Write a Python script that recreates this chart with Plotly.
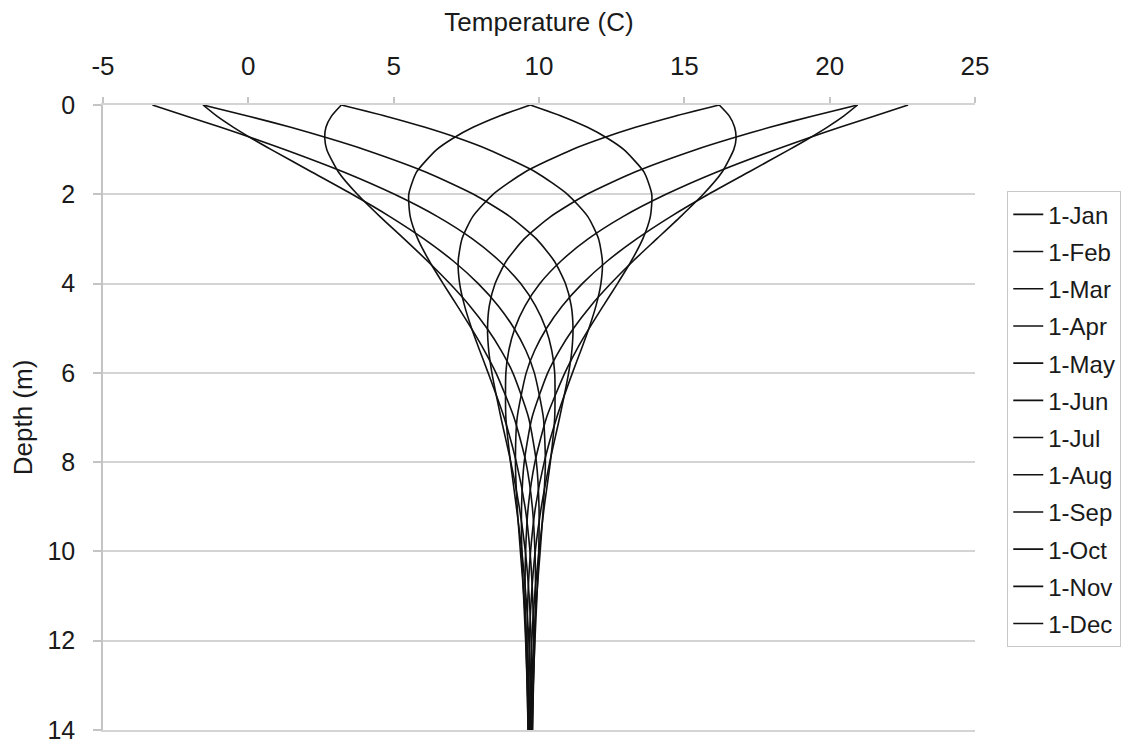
import plotly.graph_objects as go

# Depth below surface (m) at which the profiles are sampled
depth = [0, 0.25, 0.5, 0.75, 1, 1.5, 2, 2.5, 3, 3.5, 4, 4.5, 5, 5.5, 6,
         7, 8, 9, 10, 11, 12, 13, 14]

# Soil temperature profiles (C), one list per date
jan = [-1.56, 0.01, 1.46, 2.79, 4.01, 6.10, 7.75, 9.00, 9.91, 10.53, 10.91, 11.11,
       11.17, 11.13, 11.02, 10.71, 10.37, 10.08, 9.87, 9.74, 9.67, 9.64, 9.64]
feb = [-3.30, -2.12, -0.95, 0.18, 1.27, 3.28, 5.03, 6.51, 7.71, 8.65, 9.37, 9.88,
       10.23, 10.44, 10.54, 10.54, 10.39, 10.18, 10.00, 9.85, 9.75, 9.70, 9.67]
mar = [-1.56, -1.08, -0.51, 0.12, 0.79, 2.18, 3.57, 4.87, 6.04, 7.06, 7.91, 8.60,
       9.14, 9.55, 9.84, 10.15, 10.22, 10.15, 10.04, 9.92, 9.82, 9.75, 9.71]
apr = [3.20, 2.86, 2.67, 2.63, 2.70, 3.10, 3.75, 4.53, 5.36, 6.17, 6.93, 7.62,
       8.21, 8.70, 9.10, 9.64, 9.91, 10.00, 9.99, 9.93, 9.86, 9.80, 9.75]
may = [9.70, 8.62, 7.73, 7.03, 6.48, 5.79, 5.52, 5.57, 5.83, 6.23, 6.70, 7.19,
       7.67, 8.12, 8.52, 9.14, 9.55, 9.77, 9.86, 9.88, 9.85, 9.81, 9.77]
jun = [16.20, 14.67, 13.32, 12.15, 11.13, 9.52, 8.42, 7.72, 7.35, 7.22, 7.27, 7.44,
       7.68, 7.96, 8.25, 8.80, 9.22, 9.52, 9.69, 9.78, 9.81, 9.80, 9.78]
jul = [20.96, 19.39, 17.94, 16.61, 15.39, 13.30, 11.65, 10.40, 9.49, 8.87, 8.49, 8.29,
       8.23, 8.27, 8.38, 8.69, 9.03, 9.32, 9.53, 9.66, 9.73, 9.76, 9.76]
aug = [22.70, 21.52, 20.35, 19.22, 18.13, 16.12, 14.37, 12.89, 11.69, 10.75, 10.03, 9.52,
       9.17, 8.96, 8.86, 8.86, 9.02, 9.22, 9.41, 9.55, 9.65, 9.70, 9.73]
sep = [20.96, 20.48, 19.91, 19.28, 18.61, 17.22, 15.83, 14.53, 13.36, 12.34, 11.49, 10.80,
       10.26, 9.85, 9.56, 9.25, 9.19, 9.25, 9.36, 9.48, 9.58, 9.65, 9.69]
oct_ = [16.20, 16.55, 16.73, 16.78, 16.70, 16.30, 15.65, 14.87, 14.05, 13.23, 12.47, 11.78,
        11.19, 10.70, 10.30, 9.76, 9.49, 9.40, 9.41, 9.47, 9.54, 9.60, 9.65]
nov = [9.70, 10.78, 11.67, 12.37, 12.92, 13.61, 13.88, 13.83, 13.57, 13.17, 12.70, 12.21,
       11.73, 11.28, 10.89, 10.26, 9.86, 9.63, 9.54, 9.52, 9.55, 9.59, 9.63]
dec = [3.20, 4.73, 6.08, 7.26, 8.27, 9.88, 10.98, 11.68, 12.05, 12.18, 12.13, 11.96,
       11.72, 11.44, 11.15, 10.61, 10.18, 9.88, 9.71, 9.62, 9.59, 9.60, 9.62]

dates = ["1-Jan", "1-Feb", "1-Mar", "1-Apr", "1-May", "1-Jun",
         "1-Jul", "1-Aug", "1-Sep", "1-Oct", "1-Nov", "1-Dec"]
profiles = [jan, feb, mar, apr, may, jun, jul, aug, sep, oct_, nov, dec]

x_ticks = [-5, 0, 5, 10, 15, 20, 25]
x_tick_labels = ["-5", "0", "5", "10", "15", "20", "25"]
y_ticks = [0, 2, 4, 6, 8, 10, 12, 14]
y_tick_labels = ["0", "2", "4", "6", "8", "10", "12", "14"]

FONT = "Liberation Sans, Arial, sans-serif"
FONT_SIZE = 26
LEGEND_SIZE = 24
TEXT = "#1a1a1a"
AXIS_GREY = "#c4c4c4"
GRID_GREY = "#d4d4d4"

fig = go.Figure()
for name, temps in zip(dates, profiles):
    fig.add_trace(go.Scatter(
        x=temps, y=depth, mode="lines", name=name, legendgroup=name,
        line=dict(color="#111111", width=1.6, shape="spline", smoothing=0.6),
    ))

fig.update_layout(
    width=1133, height=744,
    margin=dict(l=103, r=158, t=105, b=14),
    paper_bgcolor="white", plot_bgcolor="white",
    font=dict(family=FONT, size=FONT_SIZE, color=TEXT),
    showlegend=True,
    legend=dict(
        x=1.037, y=0.862, xanchor="left", yanchor="top",
        bgcolor="white", bordercolor="#c8c8c8", borderwidth=1,
        font=dict(family=FONT, size=LEGEND_SIZE, color=TEXT),
        traceorder="grouped", tracegroupgap=3, itemwidth=30,
    ),
    xaxis=dict(
        side="top", range=[-5, 25], tickvals=x_ticks, ticktext=x_tick_labels,
        showgrid=False, zeroline=False, automargin=False,
        showline=True, mirror=True, linecolor=GRID_GREY, linewidth=1.5,
        ticks="outside", ticklen=6, tickcolor=AXIS_GREY, tickwidth=1.5,
        ticklabelstandoff=12,
        title=dict(text="Temperature (C)", standoff=12,
                   font=dict(family=FONT, size=FONT_SIZE, color=TEXT)),
    ),
    yaxis=dict(
        range=[14, 0], tickvals=y_ticks, ticktext=y_tick_labels,
        tickfont=dict(family=FONT, size=25, color=TEXT),
        showgrid=True, gridcolor=GRID_GREY, gridwidth=1.5,
        zeroline=False, automargin=False,
        showline=True, linecolor=AXIS_GREY, linewidth=1.5,
        ticks="outside", ticklen=8, tickcolor=AXIS_GREY, tickwidth=1.5,
        ticklabelstandoff=13, ticklabeloverflow="allow",
        title=dict(text="Depth (m)", standoff=7,
                   font=dict(family=FONT, size=FONT_SIZE, color=TEXT)),
    ),
)

fig.write_html("out.html")
